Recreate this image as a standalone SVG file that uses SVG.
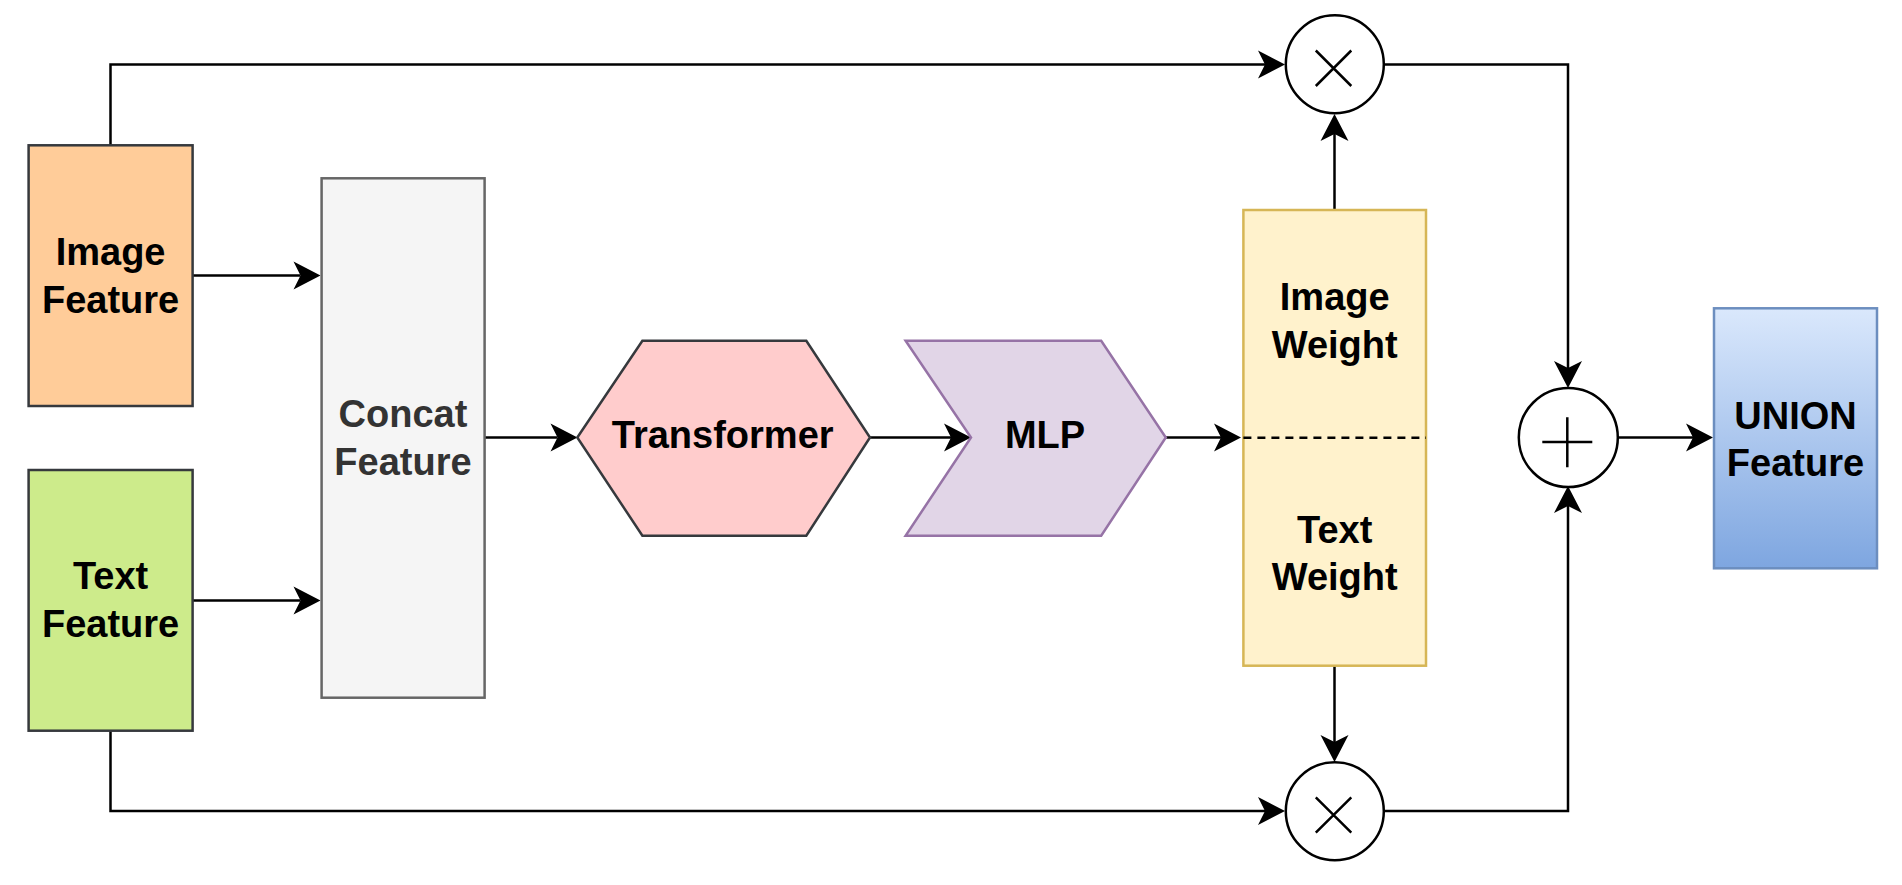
<svg xmlns="http://www.w3.org/2000/svg" width="1902" height="885" viewBox="0 0 1902 885">
<defs>
  <linearGradient id="unionGrad" x1="0" y1="0" x2="0" y2="1">
    <stop offset="0" stop-color="#dae8fc"/>
    <stop offset="1" stop-color="#7ea6e0"/>
  </linearGradient>
  <marker id="arrow" viewBox="-8 -15 30 30" refX="0" refY="0" markerWidth="30" markerHeight="30" markerUnits="userSpaceOnUse" orient="auto">
    <path d="M20,0 L-7,-14 L0,0 L-7,14 Z" fill="#000"/>
  </marker>
</defs>
<style>
  .lbl { font-family: "Liberation Sans", Arial, Helvetica, sans-serif; font-weight: bold; font-size: 38px; text-anchor: middle; fill: #000; }
  .conn { fill: none; stroke: #000; stroke-width: 2.5; marker-end: url(#arrow); }
  .op { fill: #fff; stroke: #000; stroke-width: 2.5; }
  .sym { stroke: #000; stroke-width: 2.5; fill: none; }
</style>
<rect width="1902" height="885" fill="#fff"/>

<g id="connectors">
  <path class="conn" d="M192.7,275.5 H300.5"/>
  <path class="conn" d="M192.7,600.5 H300.5"/>
  <path class="conn" d="M484.5,437.5 H557.5"/>
  <path class="conn" d="M870,437.5 H951"/>
  <path class="conn" d="M1165.8,437.5 H1221"/>
  <path class="conn" d="M110.5,145 V64.5 H1265"/>
  <path class="conn" d="M110.5,731 V811 H1265"/>
  <path class="conn" d="M1334.5,210 V134"/>
  <path class="conn" d="M1334.5,666 V742"/>
  <path class="conn" d="M1384,64.5 H1568 V368"/>
  <path class="conn" d="M1384,811 H1568 V506"/>
  <path class="conn" d="M1618,437.5 H1693"/>
</g>

<g id="image-feature">
  <rect x="28.6" y="145.3" width="164" height="260.7" fill="#ffcc99" stroke="#36393d" stroke-width="2.5"/>
  <text class="lbl" x="110.6" y="265">Image</text>
  <text class="lbl" x="110.6" y="313">Feature</text>
</g>

<g id="text-feature">
  <rect x="28.6" y="470" width="164" height="260.7" fill="#cdeb8b" stroke="#36393d" stroke-width="2.5"/>
  <text class="lbl" x="110.6" y="589">Text</text>
  <text class="lbl" x="110.6" y="637">Feature</text>
</g>

<g id="concat-feature">
  <rect x="321.6" y="178.3" width="163" height="519.4" fill="#f5f5f5" stroke="#666666" stroke-width="2.5"/>
  <text class="lbl" x="403" y="427" style="fill:#333333">Concat</text>
  <text class="lbl" x="403" y="475" style="fill:#333333">Feature</text>
</g>

<g id="transformer">
  <polygon points="577.3,437.5 642.4,340.7 806.3,340.7 870,437.5 806.3,535.7 642.4,535.7" fill="#ffcccc" stroke="#36393d" stroke-width="2.5"/>
  <text class="lbl" x="722.7" y="448">Transformer</text>
</g>

<g id="mlp">
  <polygon points="905.6,340.7 1101.2,340.7 1165.8,437.5 1101.2,535.7 905.6,535.7 971,437.5" fill="#e1d5e7" stroke="#9673a6" stroke-width="2.5"/>
  <text class="lbl" x="1045" y="448">MLP</text>
</g>

<g id="weights">
  <rect x="1243.4" y="210" width="182.6" height="455.7" fill="#fff2cc" stroke="#d6b656" stroke-width="2.5"/>
  <line x1="1243.4" y1="437.7" x2="1426" y2="437.7" stroke="#000" stroke-width="2.5" stroke-dasharray="8 6"/>
  <text class="lbl" x="1334.7" y="310">Image</text>
  <text class="lbl" x="1334.7" y="358">Weight</text>
  <text class="lbl" x="1334.7" y="543">Text</text>
  <text class="lbl" x="1334.7" y="590">Weight</text>
</g>

<g id="mult-top">
  <ellipse class="op" cx="1334.8" cy="64.3" rx="49" ry="49"/>
  <path class="sym" d="M1315.8,50.5 L1351.3,86 M1351.3,50.5 L1315.8,86"/>
</g>

<g id="mult-bottom">
  <ellipse class="op" cx="1334.8" cy="811.2" rx="49" ry="49"/>
  <path class="sym" d="M1315.8,797.3 L1351.3,832.7 M1351.3,797.3 L1315.8,832.7"/>
</g>

<g id="sum">
  <ellipse class="op" cx="1568.3" cy="437.5" rx="49.5" ry="49.5"/>
  <path class="sym" d="M1542.3,442 H1592.3 M1567.3,417.3 V467.3"/>
</g>

<g id="union-feature">
  <rect x="1714" y="308.3" width="163" height="260" fill="url(#unionGrad)" stroke="#6c8ebf" stroke-width="2.5"/>
  <text class="lbl" x="1795.5" y="429">UNION</text>
  <text class="lbl" x="1795.5" y="476">Feature</text>
</g>
</svg>
